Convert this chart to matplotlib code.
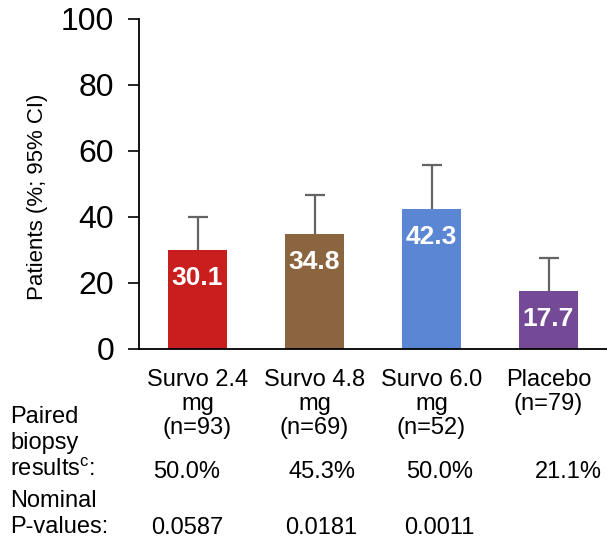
import matplotlib
matplotlib.use('Agg')
import matplotlib.pyplot as plt
import matplotlib.transforms as mtransforms
import numpy as np

groups = ['Survo 2.4\nmg\n(n=93)', 'Survo 4.8\nmg\n(n=69)', 'Survo 6.0\nmg\n(n=52)', 'Placebo\n(n=79)']
values = [30.1, 34.8, 42.3, 17.7]
ci_upper = [40.1, 46.7, 55.8, 27.7]
colors = ['#C81E1E', '#8B6540', '#5A86D4', '#744A96']
paired = ['50.0%', '45.3%', '50.0%', '21.1%']
pvalues = ['0.0587', '0.0181', '0.0011', '']
row_labels = ['Paired\nbiopsy\nresults$^{\\mathregular{c}}$:', 'Nominal\nP-values:']

plt.rcParams['font.family'] = ['Liberation Sans', 'DejaVu Sans']

fig = plt.figure(figsize=(6.07, 5.42), dpi=100)
W, H = 607, 542
ax = fig.add_axes([139 / W, (H - 349) / H, (607 - 139) / W, (349 - 19) / H])

x = np.arange(len(values))
err_up = [u - v for u, v in zip(ci_upper, values)]
ax.bar(x, values, width=0.5, color=colors, zorder=2)
eb = ax.errorbar(x, values, yerr=[[0] * len(values), err_up], fmt='none',
                 ecolor='#646464', elinewidth=1.6, capsize=7, capthick=1.6, zorder=1)
eb[1][0].set_visible(False)  # no lower cap

for xi, v in zip(x, values):
    ax.annotate('%.1f' % v, (xi, v), xytext=(0, -28), textcoords='offset pixels',
                ha='center', va='center', color='white', fontsize=19, fontweight='bold')

ax.set_xlim(-0.5, 3.5)
ax.set_ylim(0, 100)
ax.set_yticks([0, 20, 40, 60, 80, 100])
ax.tick_params(axis='y', labelsize=23, length=8, width=1.2, pad=10)
ax.set_xticks([])
ax.spines['top'].set_visible(False)
ax.spines['right'].set_visible(False)
for s in ['left', 'bottom']:
    ax.spines[s].set_linewidth(1.3)
ax.set_ylabel('Patients (%; 95% CI)', fontsize=16)
ax.yaxis.set_label_coords(-0.194, 0.46)

# x in data units, y in figure fraction
tr = mtransforms.blended_transform_factory(ax.transData, fig.transFigure)

def fy(py):
    return 1 - py / H

for xi, g in zip(x, groups):
    ax.text(xi, fy(369), g, transform=tr, ha='center', va='top',
            fontsize=17, linespacing=1.13)

# table rows below categories
col_shift = [-0.09, 0.06, 0.07, 0.17]
for xi, d, p1, p2 in zip(x, col_shift, paired, pvalues):
    ax.text(xi + d, fy(472), p1, transform=tr, ha='center', va='center', fontsize=17)
    ax.text(xi + d, fy(528), p2, transform=tr, ha='center', va='center', fontsize=17)

fig.text(10 / W, fy(406), row_labels[0], ha='left', va='top', fontsize=17, linespacing=1.24)
fig.text(10 / W, fy(490), row_labels[1], ha='left', va='top', fontsize=17, linespacing=1.24)

fig.savefig('out.png', dpi=100)
